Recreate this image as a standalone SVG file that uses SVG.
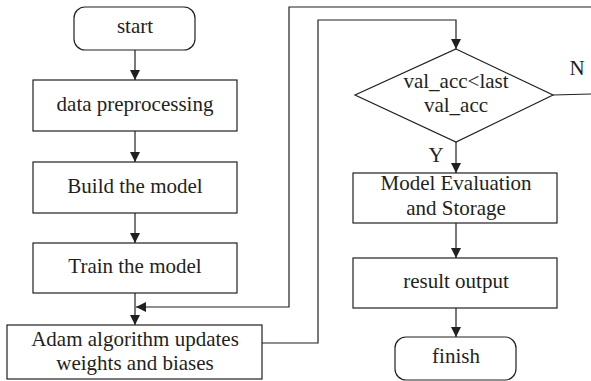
<svg xmlns="http://www.w3.org/2000/svg" width="591" height="381" viewBox="0 0 591 381">
<style>
.s{fill:#fff;stroke:#231f20;stroke-width:1.2}
.c{fill:none;stroke:#231f20;stroke-width:1.2}
text{font-family:"Liberation Serif","Times New Roman",serif;font-size:21px;fill:#231f20;text-anchor:middle}
</style>
<defs>
<marker id="a" markerWidth="10" markerHeight="12" refX="10" refY="6" orient="auto" markerUnits="userSpaceOnUse">
<path d="M0,1 L10,6 L0,11 Z" fill="#231f20"/>
</marker>
</defs>
<rect width="591" height="381" fill="#fff"/>
<g id="connectors">
<line class="c" x1="135" y1="50" x2="135" y2="80" marker-end="url(#a)"/>
<line class="c" x1="135" y1="131" x2="135" y2="162" marker-end="url(#a)"/>
<line class="c" x1="135" y1="213" x2="135" y2="243" marker-end="url(#a)"/>
<line class="c" x1="135" y1="293" x2="135" y2="325" marker-end="url(#a)"/>
<polyline class="c" points="591,7 289,7 289,307 136,307" marker-end="url(#a)"/>
<polyline class="c" points="262,343 318,343 318,20 456,20 456,49" marker-end="url(#a)"/>
<line class="c" x1="553" y1="95" x2="591" y2="94"/>
<line class="c" x1="456" y1="142" x2="456" y2="173" marker-end="url(#a)"/>
<line class="c" x1="456" y1="223" x2="456" y2="258" marker-end="url(#a)"/>
<line class="c" x1="456" y1="308" x2="456" y2="337" marker-end="url(#a)"/>
<text x="577" y="75">N</text>
<text x="436" y="162">Y</text>
</g>
<g id="start"><rect class="s" x="74" y="7" width="121" height="43" rx="11"/><text x="135" y="33">start</text></g>
<g id="preprocess"><rect class="s" x="33" y="80" width="204" height="51"/><text x="135" y="111">data preprocessing</text></g>
<g id="build"><rect class="s" x="33" y="162" width="204" height="51"/><text x="135" y="193">Build the model</text></g>
<g id="train"><rect class="s" x="33" y="243" width="204" height="50"/><text x="135" y="273">Train the model</text></g>
<g id="adam"><rect class="s" x="7" y="325" width="255" height="54"/><text x="135" y="346">Adam algorithm updates</text><text x="135" y="370">weights and biases</text></g>
<g id="decision"><polygon class="s" points="456,49 553,95 456,142 355,95"/><text x="456" y="88">val_acc&lt;last</text><text x="456" y="112">val_acc</text></g>
<g id="eval"><rect class="s" x="353" y="173" width="204" height="50"/><text x="456" y="190">Model Evaluation</text><text x="456" y="215">and Storage</text></g>
<g id="output"><rect class="s" x="353" y="258" width="204" height="50"/><text x="456" y="288">result output</text></g>
<g id="finish"><rect class="s" x="395" y="337" width="121" height="43" rx="11"/><text x="456" y="363">finish</text></g>
</svg>
